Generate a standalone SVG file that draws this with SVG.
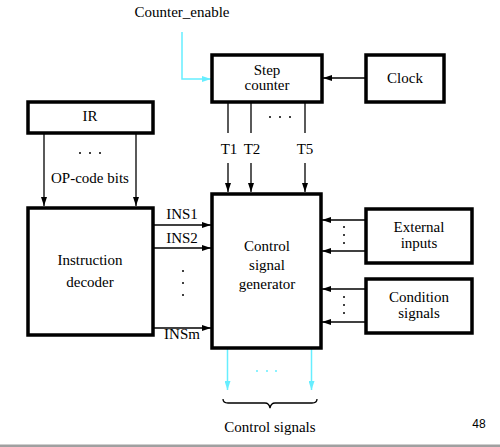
<svg xmlns="http://www.w3.org/2000/svg" width="500" height="447" viewBox="0 0 500 447">
<defs>
<style>
.box{fill:#fff;stroke:#000;stroke-width:3.5}
.t{font-family:'Liberation Serif','Times New Roman','DejaVu Serif',serif;font-size:15px;fill:#000;text-anchor:middle}
.w{stroke:#000;stroke-width:1.3;fill:none}
.c{stroke:#66eeff;stroke-width:1.5;fill:none}
.d{fill:#000}
</style>
<marker id="ah" markerWidth="9" markerHeight="6" refX="9" refY="3" orient="auto" markerUnits="userSpaceOnUse"><path d="M0,0 L9,3 L0,6 Z" fill="#000"/></marker>
<marker id="ahc" markerWidth="9" markerHeight="6" refX="9" refY="3" orient="auto" markerUnits="userSpaceOnUse"><path d="M0,0 L9,3 L0,6 Z" fill="#66eeff"/></marker>
</defs>
<rect width="500" height="447" fill="#fff"/>
<rect x="0" y="444.5" width="500" height="2.5" fill="#a0a0a0"/>

<g id="connectors">
<path class="c" d="M182,32 V79 H211" marker-end="url(#ahc)"/>
<line class="w" x1="366" y1="78" x2="323" y2="78" marker-end="url(#ah)"/>
<line class="w" x1="228" y1="102" x2="228" y2="133"/>
<line class="w" x1="251" y1="102" x2="251" y2="133"/>
<line class="w" x1="305" y1="102" x2="305" y2="133"/>
<line class="w" x1="228" y1="163" x2="228" y2="192" marker-end="url(#ah)"/>
<line class="w" x1="251" y1="163" x2="251" y2="192" marker-end="url(#ah)"/>
<line class="w" x1="305" y1="163" x2="305" y2="192" marker-end="url(#ah)"/>
<line class="w" x1="44" y1="133" x2="44" y2="206" marker-end="url(#ah)"/>
<line class="w" x1="136" y1="133" x2="136" y2="206" marker-end="url(#ah)"/>
<line class="w" x1="153" y1="225" x2="211" y2="225" marker-end="url(#ah)"/>
<line class="w" x1="153" y1="248" x2="211" y2="248" marker-end="url(#ah)"/>
<line class="w" x1="153" y1="328" x2="211" y2="328" marker-end="url(#ah)"/>
<line class="w" x1="366" y1="220" x2="322" y2="220" marker-end="url(#ah)"/>
<line class="w" x1="366" y1="251" x2="322" y2="251" marker-end="url(#ah)"/>
<line class="w" x1="366" y1="289" x2="322" y2="289" marker-end="url(#ah)"/>
<line class="w" x1="366" y1="322" x2="322" y2="322" marker-end="url(#ah)"/>
<line class="c" x1="227.5" y1="349" x2="227.5" y2="390" marker-end="url(#ahc)"/>
<line class="c" x1="311.5" y1="349" x2="311.5" y2="390" marker-end="url(#ahc)"/>
<path class="w" stroke-width="1" d="M223,399 Q223,403 228,403 H265 Q269,403 270,408 Q271,403 275,403 H312 Q317,403 317,399"/>
</g>

<g id="dots">
<circle class="d" cx="270" cy="117" r="1"/><circle class="d" cx="280" cy="117" r="1"/><circle class="d" cx="290" cy="117" r="1"/>
<circle class="d" cx="80" cy="153" r="1"/><circle class="d" cx="90" cy="153" r="1"/><circle class="d" cx="100" cy="153" r="1"/>
<circle class="d" cx="183" cy="271" r="1"/><circle class="d" cx="183" cy="283" r="1"/><circle class="d" cx="183" cy="295" r="1"/>
<circle class="d" cx="344" cy="227" r="1"/><circle class="d" cx="344" cy="235" r="1"/><circle class="d" cx="344" cy="243" r="1"/>
<circle class="d" cx="344" cy="297" r="1"/><circle class="d" cx="344" cy="305" r="1"/><circle class="d" cx="344" cy="313" r="1"/>
<circle cx="257" cy="371" r="1" fill="#66eeff"/><circle cx="267" cy="371" r="1" fill="#66eeff"/><circle cx="276" cy="371" r="1" fill="#66eeff"/>
</g>

<g id="labels">
<text class="t" x="182" y="17">Counter_enable</text>
<text class="t" x="229" y="154">T1</text>
<text class="t" x="252" y="154">T2</text>
<text class="t" x="305" y="154">T5</text>
<text class="t" x="90" y="183">OP-code bits</text>
<text class="t" x="182" y="219">INS1</text>
<text class="t" x="182" y="243">INS2</text>
<text class="t" x="182" y="339">INSm</text>
<text class="t" x="270" y="432">Control signals</text>
<text x="479" y="428" font-family="Liberation Sans, Arial, sans-serif" font-size="12" text-anchor="middle">48</text>
</g>

<g id="step-counter">
<rect class="box" x="212" y="55" width="110" height="47"/>
<text class="t" x="267" y="75">Step</text>
<text class="t" x="267" y="90">counter</text>
</g>
<g id="clock">
<rect class="box" x="366" y="55" width="78" height="47"/>
<text class="t" x="405" y="83">Clock</text>
</g>
<g id="ir">
<rect class="box" x="28" y="102" width="125" height="31"/>
<text class="t" x="90" y="121">IR</text>
</g>
<g id="instruction-decoder">
<rect class="box" x="28" y="208" width="125" height="127"/>
<text class="t" x="90" y="265">Instruction</text>
<text class="t" x="90" y="287">decoder</text>
</g>
<g id="control-signal-generator">
<rect class="box" x="212" y="194" width="109" height="154"/>
<text class="t" x="267" y="251">Control</text>
<text class="t" x="267" y="270">signal</text>
<text class="t" x="267" y="289">generator</text>
</g>
<g id="external-inputs">
<rect class="box" x="366" y="209" width="106" height="54"/>
<text class="t" x="419" y="232">External</text>
<text class="t" x="419" y="248">inputs</text>
</g>
<g id="condition-signals">
<rect class="box" x="366" y="279" width="106" height="54"/>
<text class="t" x="419" y="302">Condition</text>
<text class="t" x="419" y="318">signals</text>
</g>
</svg>
